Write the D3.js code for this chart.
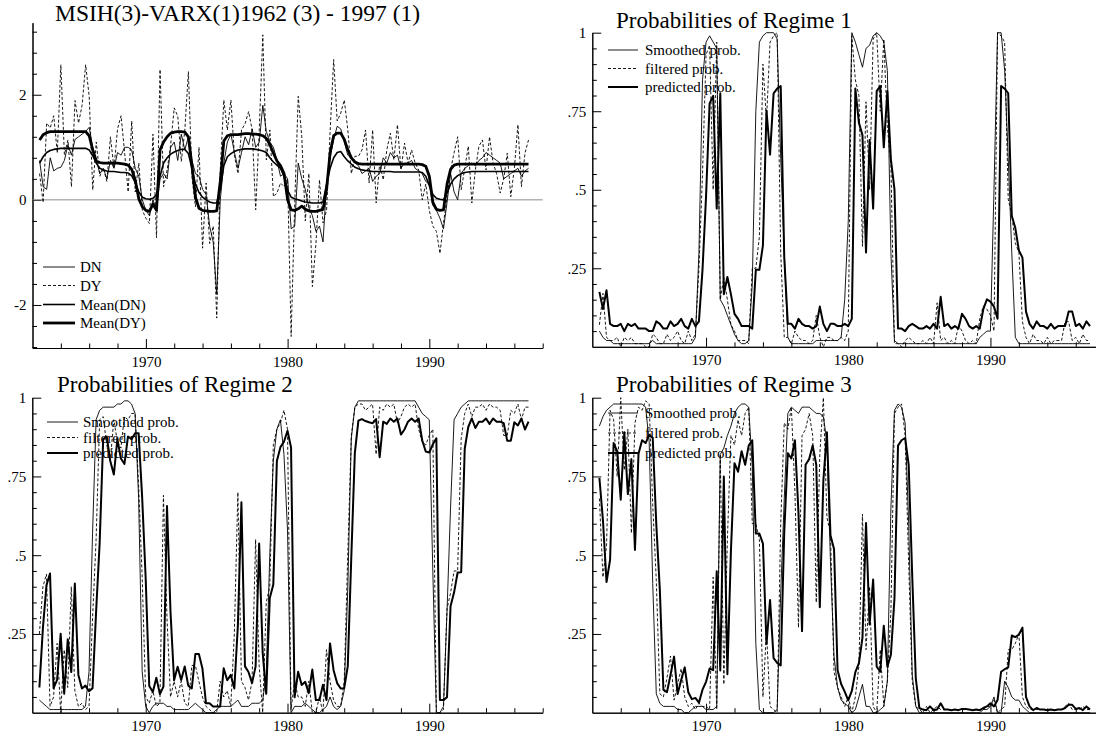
<!DOCTYPE html>
<html lang="en">
<head>
<meta charset="UTF-8">
<title>MSIH(3)-VARX(1) regime probabilities</title>
<script src="https://d3js.org/d3.v7.min.js"></script>
<style>
  html, body { margin: 0; padding: 0; background: #fff; }
  svg { display: block; font-family: "Liberation Serif", "Times New Roman", serif; }
</style>
</head>
<body>
<svg id="chart" width="1096" height="738"></svg>
<script>
// quarterly sample 1962(3) - 1997(1)
const startYear = 1962.5;

const dn = [
  0.75,0.25,0.2,0.8,0.55,0.6,0.62,0.75,1.05,0.85,
  1.15,1.2,1.25,1.3,1.38,1.0,0.75,0.5,0.6,0.4,
  0.75,0.6,0.9,0.85,1.0,1.0,0.95,0.6,0.45,0.0,
  -0.2,-0.3,0.0,-0.2,0.4,0.5,0.4,1.0,1.1,0.75,
  1.25,0.95,1.2,0.75,0.5,0.45,0.2,0.1,-0.5,-0.8,
  -1.8,0.0,0.7,1.1,1.25,0.9,0.6,0.9,1.2,1.05,
  1.35,1.0,1.1,1.8,1.3,1.1,1.0,0.75,0.45,0.5,
  0.4,-0.55,-0.5,0.7,0.4,0.2,-0.15,-0.3,-0.6,-0.5,
  -0.8,0.3,0.8,1.15,1.4,1.35,1.1,0.85,0.8,0.7,
  0.65,0.5,0.55,0.6,0.35,0.45,0.5,0.8,0.7,0.9,
  0.8,0.85,0.6,0.7,0.7,0.75,0.6,0.55,0.5,0.35,
  0.3,-0.1,-0.2,-0.35,-0.55,-0.05,0.5,0.15,0.0,0.5,
  0.6,0.65,0.7,0.65,0.75,0.8,0.9,0.85,0.8,0.75,
  0.7,0.4,0.45,0.5,0.55,0.6,0.45,0.55,0.6
];
const dy = [
  0.5,-0.05,1.46,1.37,1.6,0.89,2.57,0.86,1.14,0.25,
  1.89,1.46,1.8,2.57,1.97,0.19,1.1,0.45,0.6,0.35,
  1.2,0.6,1.35,1.6,0.9,0.15,1.5,0.15,0.7,-0.2,
  -0.35,-0.45,1.25,-0.72,2.48,0.25,0.57,1.05,1.75,1.59,
  0.73,1.33,2.44,0.44,-0.13,1.0,-0.92,0.32,-0.83,-0.5,
  -2.25,0.57,1.9,1.33,1.9,0.83,0.5,1.33,1.45,1.68,
  1.33,-0.19,1.33,3.14,0.76,1.33,0.06,0.13,0.32,0.25,
  0.4,-2.6,-0.1,1.97,1.2,-0.4,0.5,-1.65,-0.83,0.38,
  -0.44,-0.2,1.3,2.67,1.5,1.65,1.9,1.33,0.5,0.83,
  0.83,0.95,1.33,0.32,1.33,-0.06,0.7,0.38,0.95,1.27,
  0.76,1.43,0.57,1.08,0.7,0.95,0.7,0.57,0.0,0.3,
  -0.2,-0.5,-0.6,-1.02,-0.44,0.06,0.57,0.9,1.2,0.19,
  0.6,1.02,-0.06,0.57,1.02,1.14,0.57,1.2,0.7,0.5,
  0.13,0.4,0.89,0.06,0.6,1.43,0.25,0.89,1.14
];
const meanDN = [
  0.7,0.82,0.9,0.94,0.96,0.97,0.98,0.98,0.98,0.98,
  0.98,0.98,0.98,0.98,0.95,0.84,0.7,0.6,0.57,0.55,
  0.54,0.54,0.53,0.52,0.52,0.51,0.46,0.33,0.15,0.05,
  0.02,0.01,0.03,0.1,0.45,0.7,0.8,0.87,0.91,0.94,
  0.96,0.96,0.88,0.6,0.3,0.14,0.05,0.0,-0.04,-0.06,
  -0.06,0.2,0.65,0.82,0.88,0.92,0.95,0.96,0.97,0.97,
  0.97,0.96,0.95,0.93,0.9,0.8,0.72,0.66,0.6,0.45,
  0.18,0.05,0.02,0.0,-0.02,-0.04,-0.05,-0.06,-0.06,-0.06,
  -0.04,0.3,0.6,0.8,0.9,0.92,0.82,0.74,0.68,0.62,
  0.59,0.57,0.56,0.55,0.54,0.54,0.54,0.54,0.54,0.54,
  0.53,0.53,0.53,0.53,0.53,0.53,0.53,0.53,0.52,0.45,
  0.27,0.1,0.03,0.01,0.0,0.13,0.3,0.4,0.46,0.5,
  0.52,0.53,0.54,0.54,0.54,0.54,0.54,0.54,0.54,0.54,
  0.54,0.54,0.54,0.54,0.54,0.54,0.54,0.54,0.54
];
const meanDY = [
  1.14,1.24,1.28,1.3,1.3,1.3,1.3,1.3,1.3,1.3,
  1.3,1.3,1.3,1.3,1.22,0.95,0.74,0.71,0.7,0.7,
  0.7,0.7,0.7,0.69,0.68,0.66,0.58,0.38,0.02,-0.13,
  -0.2,-0.22,-0.08,-0.2,0.95,1.1,1.2,1.27,1.29,1.3,
  1.3,1.29,1.2,0.65,0.05,-0.16,-0.2,-0.21,-0.22,-0.22,
  -0.21,0.35,1.12,1.22,1.24,1.24,1.24,1.25,1.26,1.26,
  1.25,1.25,1.24,1.22,1.17,1.05,0.89,0.74,0.65,0.5,
  0.0,-0.19,-0.2,-0.17,-0.12,-0.18,-0.21,-0.22,-0.22,-0.2,
  -0.18,0.2,0.9,1.22,1.27,1.27,1.15,0.95,0.8,0.72,
  0.69,0.68,0.68,0.68,0.68,0.68,0.68,0.68,0.68,0.68,
  0.68,0.68,0.68,0.68,0.68,0.68,0.68,0.68,0.67,0.64,
  0.45,-0.05,-0.18,-0.2,-0.19,0.3,0.58,0.66,0.68,0.68,
  0.68,0.68,0.68,0.68,0.68,0.68,0.68,0.68,0.68,0.68,
  0.68,0.68,0.68,0.68,0.68,0.68,0.68,0.68,0.68
];

// Regime 1
const smooth1 = [
  .05,.03,.02,.02,.01,.01,.01,.01,.01,.01,
  .01,.01,.01,.01,.01,.02,.01,.01,.01,.01,
  .01,.01,.01,.01,.01,.01,.01,.03,.3,.85,
  .97,.99,.97,.95,.15,.13,.1,.07,.04,.02,
  .01,.01,.02,.2,.75,.97,.99,1,1,1,
  .98,.6,.3,.03,.01,.01,.01,.01,.01,.01,
  .01,.02,.02,.02,.02,.02,.02,.02,.03,.15,
  .4,1,.97,.93,.89,.95,.96,.99,1,.99,
  .97,.88,.3,.02,.01,.01,.01,.01,.01,.01,
  .01,.01,.01,.01,.01,.01,.01,.01,.01,.01,
  .01,.01,.01,.01,.01,.01,.01,.03,.04,.05,
  .05,.5,1,1,.88,.6,.3,.03,.01,.01,
  .01,.01,.01,.01,.01,.01,.01,.01,.01,.01,
  .01,.01,.01,.01,.01,.01,.01,.01,.01
];
const filt1 = [
  .07,.17,.03,.02,.02,.03,0,.03,.02,.03,
  .01,.01,.01,0,0,.04,.03,.01,.01,.04,
  .02,.03,.05,.02,.01,.05,.02,.04,.25,.55,
  .93,.96,.5,.97,.15,.22,.15,.07,.05,.02,
  .02,.02,.01,.25,.25,.35,.9,.72,.97,.99,
  1,.3,.03,.03,.01,.05,.03,.02,.02,.01,
  .02,.1,.03,0,.03,.03,.02,.02,.03,.02,
  .05,.99,.85,.8,.32,.78,.5,.98,1,.75,
  .98,.7,.58,.01,.01,0,.02,.03,.02,.01,
  .01,.02,.01,.03,.01,.14,.02,.03,.01,.02,
  .01,.07,.05,.02,.01,.02,.01,.09,.13,.12,
  .1,.05,1,.99,.97,.47,.42,.33,.3,.08,
  .03,.01,.04,.02,.02,.01,.03,.01,.02,.02,
  .02,.08,.08,.02,.03,.01,.04,.02,.02
];
const pred1 = [
  .175,.12,.18,.073,.066,.066,.073,.05,.073,.066,
  .073,.058,.058,.058,.05,.05,.081,.073,.058,.058,
  .081,.066,.073,.089,.066,.058,.089,.066,.081,.245,
  .479,.775,.799,.44,.807,.167,.222,.167,.105,.089,
  .066,.066,.066,.058,.245,.245,.323,.752,.612,.807,
  .822,.83,.284,.073,.073,.058,.089,.073,.066,.066,
  .058,.066,.128,.073,.05,.073,.073,.066,.066,.073,
  .066,.089,.822,.713,.674,.3,.658,.44,.814,.83,
  .635,.814,.596,.502,.058,.058,.05,.066,.073,.066,
  .058,.058,.066,.058,.073,.058,.159,.066,.073,.058,
  .066,.058,.105,.089,.066,.058,.066,.058,.12,.151,
  .144,.128,.089,.83,.822,.807,.417,.378,.307,.284,
  .112,.073,.058,.081,.066,.066,.058,.073,.058,.066,
  .066,.066,.112,.112,.066,.073,.058,.081,.066
];

// Regime 2
const smooth2 = [
  .04,.03,.02,.01,.01,.01,.01,.01,.01,.01,
  .01,.01,.01,.02,.13,.57,.93,.96,.97,.97,
  .97,.97,.98,.98,.99,.99,.98,.95,.68,.13,
  .02,0,.02,.03,.03,.03,.02,.02,.01,.01,
  .01,.01,.01,.02,.03,.02,.01,0,0,0,
  .01,.02,.02,.02,.02,.03,.04,.02,.02,.02,
  .03,.03,.03,.04,.12,.5,.8,.9,.93,.82,
  .58,0,.02,.02,.02,.03,.02,.01,0,0,
  .01,.02,.05,.02,.01,.02,.07,.39,.87,.97,
  .99,.99,.99,.99,.99,.99,.99,.99,.99,.99,
  .99,.99,.99,.99,.99,.99,.99,.97,.95,.94,
  .93,.45,0,0,.02,.32,.65,.93,.95,.97,
  .98,.99,.99,.99,.99,.99,.99,.99,.99,.99,
  .99,.99,.99,.99,.99,.99,.99,.99,.99
];
const filt2 = [
  .25,.4,.44,.02,.05,.22,0,.2,.08,.4,
  .07,.02,.03,.01,.02,.3,.55,.93,.94,.85,
  .8,.93,.86,.84,.94,.93,.95,.95,.72,.43,
  .05,.03,.07,.02,.03,.69,.3,.05,.1,.05,
  .1,.03,.02,.15,.15,.1,.05,.02,.01,0,
  0,.1,.05,.07,.02,.25,.7,.1,.08,.04,
  .1,.55,.15,0,.35,.4,.85,.9,.92,.96,
  .9,.01,.1,.05,.05,.02,.1,0,0,.05,
  0,.2,.1,.04,.02,.02,.1,.5,.88,.97,
  .98,.98,.96,.97,.98,.82,.97,.96,.98,.97,
  .98,.92,.94,.97,.98,.97,.98,.9,.86,.85,
  .88,.9,0,0,.01,.33,.38,.45,.45,.87,
  .95,.98,.94,.97,.97,.98,.96,.98,.97,.97,
  .96,.88,.88,.96,.95,.98,.93,.97,.97
];
const pred2 = [
  .08,.27,.405,.442,.078,.104,.251,.06,.233,.129,
  .41,.12,.077,.086,.068,.078,.321,.538,.869,.877,
  .799,.756,.868,.807,.79,.877,.868,.887,.887,.682,
  .423,.085,.066,.111,.059,.083,.656,.318,.103,.146,
  .104,.147,.086,.077,.186,.186,.14,.03,.03,.02,
  .02,.02,.141,.103,.12,.077,.277,.668,.147,.129,
  .094,.147,.537,.19,.06,.364,.407,.799,.843,.86,
  .895,.842,.049,.13,.088,.098,.062,.137,.04,.04,
  .089,.04,.22,.135,.094,.077,.078,.147,.494,.825,
  .927,.932,.926,.922,.919,.932,.811,.924,.917,.934,
  .924,.934,.883,.899,.924,.934,.924,.934,.865,.829,
  .826,.852,.871,.04,.04,.049,.338,.382,.445,.446,
  .838,.907,.934,.904,.924,.924,.934,.917,.934,.924,
  .924,.919,.863,.863,.922,.912,.934,.899,.924
];

// Regime 3
const smooth3 = [
  .91,.94,.96,.97,.98,.98,.98,.98,.98,.98,
  .98,.98,.98,.97,.86,.41,.06,.03,.02,.02,
  .02,.02,.01,.01,0,0,.01,.02,.02,.02,
  .01,.01,.01,.02,.82,.84,.88,.91,.95,.97,
  .98,.98,.97,.78,.22,.01,0,0,0,0,
  .01,.38,.68,.95,.97,.96,.95,.97,.97,.97,
  .96,.95,.95,.94,.86,.48,.18,.08,.04,.03,
  .02,0,.01,.05,.09,.02,.02,0,0,.01,
  .02,.1,.65,.96,.98,.97,.92,.6,.12,.02,
  0,0,0,0,0,0,0,0,0,0,
  0,0,0,0,0,0,0,0,.01,.01,
  .02,.05,0,0,.1,.08,.05,.04,.04,.02,
  .01,0,0,0,0,0,0,0,0,0,
  0,0,0,0,0,0,0,0,0
];
const filt3 = [
  .68,.43,.53,.96,.93,.75,1,.77,.9,.57,
  .92,.97,.96,.99,.98,.66,.42,.06,.05,.11,
  .18,.04,.09,.14,.05,.02,.03,.01,.03,.02,
  .02,.01,.43,.01,.82,.09,.55,.88,.85,.93,
  .88,.95,.97,.6,.6,.55,.05,.26,.02,.01,
  0,.6,.92,.9,.97,.7,.27,.88,.9,.95,
  .88,.35,.82,1,.62,.57,.13,.08,.05,.02,
  .05,0,.05,.15,.63,.2,.4,.02,0,.2,
  .02,.1,.32,.95,.97,.98,.88,.47,.1,.02,
  .01,0,.02,0,.01,.02,.01,.01,.01,.01,
  .01,.01,.01,.01,.01,.01,.01,.01,.01,.02,
  .02,.04,0,.01,.02,.2,.2,.22,.25,.05,
  .02,.01,.01,.01,.01,.01,.01,.01,.01,.01,
  .01,.02,.03,.01,.01,.01,.02,.01,.01
];
const pred3 = [
  .745,.61,.415,.485,.856,.83,.676,.89,.694,.805,
  .517,.822,.865,.856,.882,.872,.598,.389,.073,.065,
  .12,.178,.059,.104,.144,.065,.043,.047,.032,.073,
  .098,.14,.135,.449,.134,.75,.122,.515,.792,.765,
  .83,.787,.848,.865,.569,.569,.537,.218,.358,.173,
  .158,.15,.575,.824,.807,.865,.634,.259,.787,.805,
  .848,.787,.335,.737,.89,.563,.52,.135,.091,.067,
  .039,.069,.129,.157,.238,.602,.28,.423,.146,.13,
  .276,.146,.184,.363,.848,.865,.872,.787,.433,.109,
  .015,.01,.008,.02,.008,.01,.03,.01,.01,.008,
  .01,.008,.012,.012,.01,.008,.01,.008,.015,.02,
  .03,.02,.04,.13,.138,.144,.245,.24,.248,.27,
  .05,.02,.008,.015,.01,.01,.008,.01,.008,.01,
  .01,.015,.025,.025,.012,.015,.008,.02,.01
];

const dates = dn.map((_, i) => startYear + i / 4);

const titles = [
  "MSIH(3)-VARX(1)1962 (3) - 1997 (1)",
  "Probabilities of Regime 1",
  "Probabilities of Regime 2",
  "Probabilities of Regime 3"
];
const probLegend = ["Smoothed prob.", "filtered prob.", "predicted prob."];
const seriesLegend = ["DN", "DY", "Mean(DN)", "Mean(DY)"];
const yearLabels = [1970, 1980, 1990];

const styles = {
  thin:  { width: 0.9, dash: null },
  dash:  { width: 0.9, dash: "3,2" },
  mid:   { width: 1.6, dash: null },
  thick: { width: 2.0, dash: null },
  heavy: { width: 2.8, dash: null }
};

const svg = d3.select("#chart");

function drawPanel(p) {
  const x = d3.scaleLinear().domain([1962, 1998]).range([p.left, p.right]);
  const y = d3.scaleLinear().domain(p.domain).range([p.bottom, p.top]);
  const g = svg.append("g");

  // x axis: minor ticks every 2 years, labelled decades
  const minorX = d3.range(1964, 1999, 2).filter(v => !yearLabels.includes(v));
  g.append("g")
    .attr("transform", `translate(0,${p.bottom})`)
    .call(d3.axisBottom(x).tickValues(minorX).tickSize(-4.5).tickSizeOuter(0).tickFormat(""));
  g.append("g")
    .attr("transform", `translate(0,${p.bottom})`)
    .call(d3.axisBottom(x).tickValues(yearLabels).tickSize(-9).tickSizeOuter(0).tickPadding(8).tickFormat(d => d));

  // y axis
  g.append("g")
    .attr("transform", `translate(${p.left},0)`)
    .call(d3.axisLeft(y).tickValues(p.minorY).tickSize(-4.5).tickSizeOuter(0).tickFormat(""));
  g.append("g")
    .attr("transform", `translate(${p.left},0)`)
    .call(d3.axisLeft(y).tickValues(p.majorY).tickSize(-9).tickSizeOuter(0).tickPadding(6).tickFormat(p.fmt));

  g.selectAll(".tick text").attr("font-size", 15).attr("font-family", "Liberation Serif, Times New Roman, serif").attr("fill", "#000");
  g.selectAll(".domain, .tick line").attr("stroke", "#000").attr("stroke-width", 1);

  if (p.zero) {
    g.append("line")
      .attr("x1", x(1962)).attr("x2", x(1998))
      .attr("y1", y(0)).attr("y2", y(0))
      .attr("stroke", "#8c8c8c").attr("stroke-width", 1);
  }

  const line = d3.line().x((d, i) => x(dates[i])).y(d => y(d));
  p.series.forEach(s => {
    const st = styles[s.style];
    g.append("path")
      .datum(s.values)
      .attr("fill", "none")
      .attr("stroke", "#000")
      .attr("stroke-width", st.width)
      .attr("stroke-linejoin", "round")
      .attr("stroke-dasharray", st.dash)
      .attr("d", line);
  });

  // legend
  p.series.forEach((s, k) => {
    const st = styles[s.style];
    const ly = p.legend.rows[k];
    g.append("line")
      .attr("x1", p.legend.x1).attr("x2", p.legend.x2)
      .attr("y1", ly).attr("y2", ly)
      .attr("stroke", "#000")
      .attr("stroke-width", st.width)
      .attr("stroke-dasharray", st.dash);
    g.append("text")
      .attr("x", p.legend.tx).attr("y", ly + 5)
      .attr("font-size", 15)
      .text(s.label);
  });

  g.append("text")
    .attr("x", p.titleX).attr("y", p.titleY)
    .attr("font-size", p.titleSize)
    .text(p.title);
}

const probFmt = d => d === 1 ? "1" : String(d).replace(/^0\./, ".");
const probMinor = d3.range(0, 21).map(k => k / 20).filter(v => v % 0.25 !== 0);
const probMajor = [0.25, 0.5, 0.75, 1];
const leftX = [32.5, 542.7], rightX = [592.3, 1104.2];

const panels = [
  {
    title: titles[0], titleX: 55, titleY: 21, titleSize: 23.5,
    left: leftX[0], right: leftX[1], top: 22.7, bottom: 348,
    domain: [-2.819, 3.371], zero: true,
    minorY: d3.range(-7, 9).map(k => +(k * 0.4).toFixed(1)).filter(v => ![-2, 0, 2].includes(v)),
    majorY: [-2, 0, 2], fmt: d => String(d),
    legend: { x1: 43, x2: 75, tx: 80, rows: [267, 285.5, 304.5, 323] },
    series: [
      { label: seriesLegend[0], values: dn, style: "thin" },
      { label: seriesLegend[1], values: dy, style: "dash" },
      { label: seriesLegend[2], values: meanDN, style: "mid" },
      { label: seriesLegend[3], values: meanDY, style: "heavy" }
    ]
  },
  {
    title: titles[1], titleX: 616, titleY: 28, titleSize: 23,
    left: rightX[0], right: rightX[1], top: 32.7, bottom: 346.8,
    domain: [0, 1], minorY: probMinor, majorY: probMajor, fmt: probFmt,
    legend: { x1: 608, x2: 638, tx: 645, rows: [50, 68.5, 87] },
    series: [
      { label: probLegend[0], values: smooth1, style: "thin" },
      { label: probLegend[1], values: filt1, style: "dash" },
      { label: probLegend[2], values: pred1, style: "thick" }
    ]
  },
  {
    title: titles[2], titleX: 57, titleY: 392, titleSize: 23,
    left: leftX[0] - 0.2, right: leftX[1], top: 397.7, bottom: 712.7,
    domain: [0, 1], minorY: probMinor, majorY: probMajor, fmt: probFmt,
    legend: { x1: 47, x2: 78, tx: 83, rows: [422, 437.5, 453] },
    series: [
      { label: probLegend[0], values: smooth2, style: "thin" },
      { label: probLegend[1], values: filt2, style: "dash" },
      { label: probLegend[2], values: pred2, style: "thick" }
    ]
  },
  {
    title: titles[3], titleX: 616, titleY: 392, titleSize: 23,
    left: rightX[0], right: rightX[1], top: 397.7, bottom: 712.7,
    domain: [0, 1], minorY: probMinor, majorY: probMajor, fmt: probFmt,
    legend: { x1: 608, x2: 638, tx: 645, rows: [413, 433, 453] },
    series: [
      { label: probLegend[0], values: smooth3, style: "thin" },
      { label: probLegend[1], values: filt3, style: "dash" },
      { label: probLegend[2], values: pred3, style: "thick" }
    ]
  }
];

panels.forEach(drawPanel);
</script>
</body>
</html>
